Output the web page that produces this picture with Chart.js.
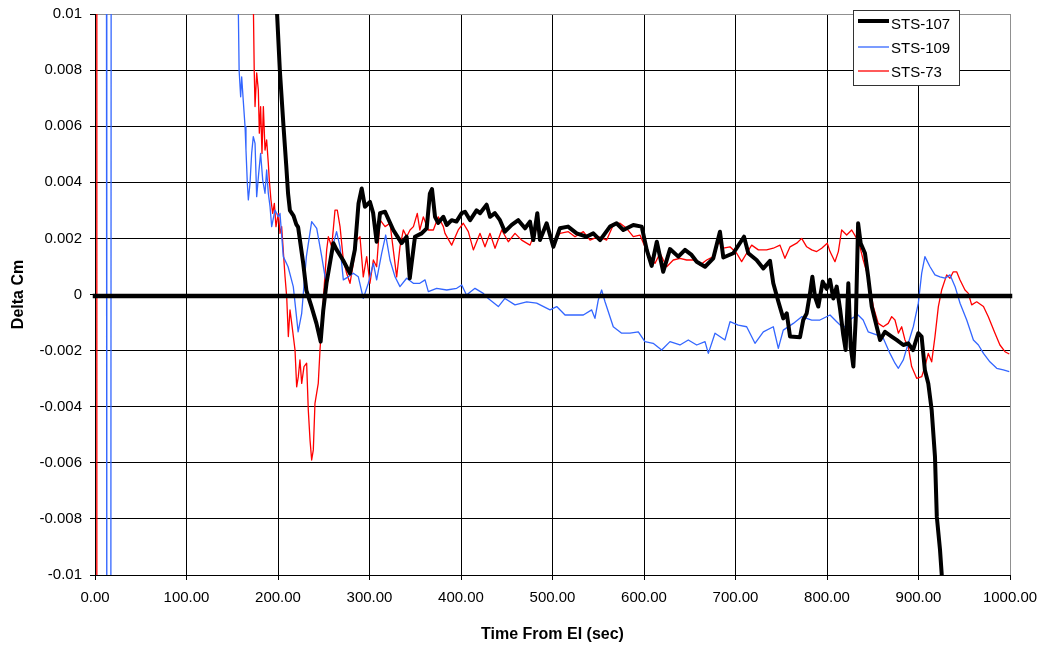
<!DOCTYPE html>
<html>
<head>
<meta charset="utf-8">
<title>Delta Cm vs Time From EI</title>
<script src="https://cdn.jsdelivr.net/npm/chart.js@4.4.1/dist/chart.umd.min.js"></script>
<style>
  html, body { margin: 0; padding: 0; background: #ffffff; }
  canvas { display: block; }
</style>
</head>
<body>
<canvas id="chart" width="1040" height="647"></canvas>
<script>
// Time from entry interface (sec) and Delta Cm, one [t, value] pair per sample.
const seriesNames = ['STS-107', 'STS-109', 'STS-73'];

const sts107 = [
  [198, 10.5e-3], [199, 10e-3], [202, 8.0e-3], [206, 6.0e-3], [209, 4.6e-3], [211, 3.6e-3],
  [213, 3.0e-3], [217, 2.8e-3], [220, 2.5e-3], [222, 2.4e-3], [227.6, 1.1e-3], [231, 0.15e-3],
  [236.6, -0.43e-3], [242, -1.03e-3], [246.6, -1.68e-3], [249.5, -0.55e-3], [253, 0.4e-3],
  [260.5, 1.83e-3], [264, 1.6e-3], [271, 1.23e-3], [278.7, 0.75e-3], [284, 1.6e-3],
  [288, 3.25e-3], [291.5, 3.78e-3], [295, 3.13e-3], [300.5, 3.3e-3], [304, 2.9e-3],
  [307.8, 1.88e-3], [311.5, 2.9e-3], [317, 2.95e-3], [326, 2.3e-3], [335, 1.83e-3],
  [340.6, 2.06e-3], [344, 0.58e-3], [349.7, 2.06e-3], [357, 2.18e-3], [362.5, 2.36e-3],
  [366, 3.6e-3], [368.3, 3.76e-3], [371.6, 2.77e-3], [375, 2.55e-3], [380.7, 2.77e-3],
  [384.4, 2.48e-3], [389.8, 2.65e-3], [395, 2.6e-3], [400.8, 2.9e-3], [404.4, 2.95e-3],
  [410, 2.65e-3], [417, 3.0e-3], [420.8, 2.9e-3], [428, 3.2e-3], [431.7, 2.77e-3],
  [437, 2.9e-3], [442.6, 2.65e-3], [448, 2.24e-3], [455.4, 2.48e-3], [462.6, 2.65e-3],
  [470, 2.36e-3], [475.4, 2.6e-3], [479, 1.94e-3], [483.4, 2.9e-3], [486.3, 1.94e-3],
  [493.6, 2.54e-3], [500.9, 1.7e-3], [508, 2.36e-3], [517, 2.42e-3], [526.4, 2.18e-3],
  [537, 2.06e-3], [544.6, 2.18e-3], [552, 1.94e-3], [562.8, 2.42e-3], [570, 2.54e-3],
  [577.4, 2.3e-3], [588.3, 2.48e-3], [597.5, 2.42e-3], [603, 1.59e-3], [608.4, 1.02e-3],
  [614, 1.88e-3], [621, 0.81e-3], [628.4, 1.62e-3], [637.5, 1.35e-3], [644.8, 1.59e-3],
  [652, 1.41e-3], [657.6, 1.17e-3], [666.7, 0.99e-3], [675.7, 1.29e-3], [683, 2.24e-3],
  [686.7, 1.32e-3], [697.6, 1.47e-3], [709.3, 2.06e-3], [714, 1.47e-3], [723, 1.23e-3],
  [730.4, 0.93e-3], [737.7, 1.2e-3], [741.3, 0.4e-3], [746.8, -0.25e-3], [752.2, -0.85e-3],
  [756, -0.67e-3], [759.6, -1.5e-3], [770.5, -1.52e-3], [774, -0.91e-3], [777.8, -0.67e-3],
  [781.4, 0.04e-3], [784, 0.63e-3], [786.9, -0.08e-3], [790.5, -0.43e-3], [795.3, 0.46e-3],
  [799.6, 0.2e-3], [803.3, 0.52e-3], [806.9, -0.14e-3], [810.6, 0.28e-3], [814.2, -0.5e-3],
  [817.8, -1.45e-3], [820.4, -1.98e-3], [823.3, 0.4e-3], [825.9, -1.86e-3], [828.8, -2.57e-3],
  [831.7, -0.67e-3], [834, 2.54e-3], [836.8, 1.83e-3], [841.5, 1.47e-3], [845, 0.63e-3],
  [848.9, -0.43e-3], [852.5, -0.91e-3], [858, -1.62e-3], [863.4, -1.33e-3], [870.7, -1.5e-3],
  [876, -1.62e-3], [883.4, -1.8e-3], [888.8, -1.74e-3], [894, -1.98e-3], [899.8, -1.38e-3],
  [903.4, -1.5e-3], [907, -2.7e-3], [910.7, -3.17e-3], [914.4, -4.12e-3], [918, -5.78e-3],
  [920, -7.92e-3], [923.5, -9.1e-3], [925.3, -9.94e-3], [926, -10.3e-3]
];

const sts109 = [
  [12.5, 15e-3], [12.9, -15e-3], [17.3, -15e-3], [17.7, 15e-3],
  [156.5, 10.5e-3], [157.5, 8.0e-3], [159.2, 7.05e-3], [160.3, 7.76e-3], [162, 6.93e-3],
  [164, 5.98e-3], [165, 5.15e-3], [166.5, 3.96e-3], [167.6, 3.37e-3], [169.4, 3.96e-3],
  [171.2, 5.03e-3], [173, 5.63e-3], [174.9, 5.39e-3], [176.7, 3.49e-3], [178.9, 4.32e-3],
  [181, 5.03e-3], [183.3, 4.08e-3], [185.8, 3.61e-3], [187.6, 4.44e-3], [189.4, 3.61e-3],
  [191.3, 3.13e-3], [193.1, 2.42e-3], [196.7, 3.01e-3], [200.3, 2.77e-3], [202.2, 2.89e-3],
  [205.8, 1.35e-3], [211, 0.99e-3], [216.7, 0.28e-3], [222, -1.33e-3], [225.9, -0.67e-3],
  [231, 1.35e-3], [236.8, 2.6e-3], [242.3, 2.36e-3], [247.8, 1.35e-3], [253.2, 0.28e-3],
  [258.7, 1.59e-3], [264, 2.24e-3], [267.8, 1.7e-3], [271.4, 0.52e-3], [276.8, 0.63e-3],
  [282.3, 0.76e-3], [287.8, 0.63e-3], [293.2, -0.14e-3], [298.7, 0.4e-3], [304.2, 1.11e-3],
  [307.8, 0.52e-3], [313.3, 1.47e-3], [317.7, 2.12e-3], [322.4, 1.23e-3], [327.9, 0.63e-3],
  [333.3, 0.28e-3], [340.6, 0.58e-3], [347.9, 0.4e-3], [355, 0.4e-3], [360.7, 0.52e-3],
  [364.3, 0.1e-3], [373.4, 0.22e-3], [384.4, 0.16e-3], [395.3, 0.22e-3], [400.8, 0.34e-3],
  [406, -0.02e-3], [415.3, 0.22e-3], [424.4, 0.04e-3], [429.8, -0.14e-3], [440.8, -0.43e-3],
  [448, -0.14e-3], [459, -0.37e-3], [471.8, -0.26e-3], [482.7, -0.31e-3], [497.3, -0.55e-3],
  [504.6, -0.43e-3], [513.7, -0.73e-3], [522.7, -0.73e-3], [533.7, -0.73e-3], [542.8, -0.55e-3],
  [546.4, -0.85e-3], [550, -0.2e-3], [553.7, 0.16e-3], [557.4, -0.26e-3], [566.4, -1.15e-3],
  [575.6, -1.38e-3], [584.7, -1.38e-3], [593.8, -1.33e-3], [601, -1.68e-3], [610, -1.74e-3],
  [619.3, -1.98e-3], [628.4, -1.68e-3], [639.3, -1.8e-3], [648.4, -1.62e-3], [657.6, -1.8e-3],
  [666.7, -1.68e-3], [670.3, -2.1e-3], [677.6, -1.38e-3], [688.5, -1.62e-3], [694, -0.97e-3],
  [703, -1.09e-3], [712.2, -1.15e-3], [721.3, -1.74e-3], [730.4, -1.33e-3], [741.3, -1.15e-3],
  [746.8, -1.92e-3], [752.2, -1.27e-3], [763.2, -1.03e-3], [772.3, -0.79e-3], [783.3, -0.91e-3],
  [792.3, -0.91e-3], [803.3, -0.73e-3], [810.6, -0.97e-3], [817.8, -1.2e-3], [827, -0.85e-3],
  [834, -0.73e-3], [839.5, -0.91e-3], [845, -1.33e-3], [854.3, -1.44e-3], [861.5, -1.56e-3],
  [868.8, -2.1e-3], [874.3, -2.45e-3], [878, -2.63e-3], [883.4, -2.33e-3], [888.8, -1.74e-3],
  [894.3, -1.15e-3], [899.8, -0.31e-3], [903.5, 0.76e-3], [907, 1.35e-3], [912.6, 0.99e-3],
  [918, 0.7e-3], [923.5, 0.63e-3], [929, 0.58e-3], [934.4, 0.7e-3], [940, 0.28e-3],
  [945.4, -0.31e-3], [952.7, -0.91e-3], [960, -1.62e-3], [965.5, -1.8e-3], [971, -2.1e-3],
  [978, -2.4e-3], [985.5, -2.63e-3], [992.7, -2.69e-3], [999.2, -2.75e-3]
];

const sts73 = [
  [1.5, -15e-3], [2.0, 15e-3],
  [173, 10.5e-3], [174, 8.0e-3], [174.9, 6.7e-3], [176.7, 7.9e-3], [178.5, 7.29e-3],
  [179.6, 5.75e-3], [181, 6.7e-3], [182.5, 5.03e-3], [184, 6.7e-3], [185.8, 5.15e-3],
  [187.6, 5.51e-3], [189.4, 4.68e-3], [190.5, 4.08e-3], [192.3, 3.37e-3], [194.2, 2.89e-3],
  [196, 3.25e-3], [197.8, 2.42e-3], [200.4, 2.89e-3], [202.2, 2.18e-3], [204, 2.42e-3],
  [207.7, 0.63e-3], [209.5, -0.08e-3], [211.3, -1.5e-3], [213.1, -0.55e-3], [215, -1.03e-3],
  [218.6, -1.98e-3], [220.4, -3.29e-3], [222.2, -2.93e-3], [224, -2.33e-3], [225.9, -3.17e-3],
  [228.4, -2.57e-3], [231.3, -2.45e-3], [233.1, -4.12e-3], [235, -5.19e-3], [236.8, -5.9e-3],
  [238.6, -5.54e-3], [240.4, -3.88e-3], [244, -3.17e-3], [245.9, -1.98e-3], [249.5, -0.2e-3],
  [253.2, 1.59e-3], [255, 2.06e-3], [258.7, 1.7e-3], [262.3, 3.01e-3], [264.8, 3.01e-3],
  [267.8, 2.42e-3], [271.4, 1.23e-3], [275, 0.76e-3], [278.7, 0.4e-3], [282.3, 1.11e-3],
  [286, 1.94e-3], [289.6, 2.06e-3], [293.2, 0.63e-3], [296.9, 1.35e-3], [300.5, 0.4e-3],
  [304.2, 1.23e-3], [307.8, 0.99e-3], [311.5, 2.66e-3], [317, 2.42e-3], [322.4, 2.54e-3],
  [326, 1.59e-3], [329.7, 0.63e-3], [333.3, 1.7e-3], [337, 2.3e-3], [340.6, 2.06e-3],
  [344.3, 2.3e-3], [348, 2.42e-3], [352.2, 2.89e-3], [355, 2.3e-3], [358.8, 2.77e-3],
  [364.3, 2.3e-3], [369.8, 2.3e-3], [375.2, 2.77e-3], [380.7, 2.42e-3], [382.5, 2.18e-3],
  [389.8, 1.76e-3], [397, 2.3e-3], [402.5, 2.54e-3], [408, 2.24e-3], [413.5, 1.59e-3],
  [420.8, 2.18e-3], [426.2, 1.7e-3], [431.7, 2.18e-3], [437.2, 1.65e-3], [444.5, 2.3e-3],
  [451.7, 1.88e-3], [459, 2.18e-3], [466.3, 1.94e-3], [475.4, 1.76e-3], [482.7, 2.36e-3],
  [488.2, 2.06e-3], [493.6, 2.54e-3], [500.9, 1.83e-3], [508.2, 2.18e-3], [517.3, 2.24e-3],
  [524.6, 2.06e-3], [533.7, 2.24e-3], [541, 1.94e-3], [550, 2.06e-3], [559.2, 1.94e-3],
  [566.4, 2.48e-3], [573.8, 2.54e-3], [581, 2.36e-3], [588.3, 2.06e-3], [595.6, 2.12e-3],
  [601, 1.7e-3], [606.6, 1.35e-3], [612, 1.11e-3], [617.5, 1.47e-3], [624.8, 0.99e-3],
  [632, 1.23e-3], [639.3, 1.29e-3], [646.6, 1.23e-3], [654, 1.23e-3], [661.2, 1.05e-3],
  [668.5, 1.23e-3], [675.7, 1.35e-3], [681.2, 1.88e-3], [686.7, 1.65e-3], [694, 1.7e-3],
  [701.3, 1.47e-3], [706.7, 1.17e-3], [712.2, 1.47e-3], [717.7, 1.76e-3], [725, 1.59e-3],
  [734, 1.59e-3], [741.3, 1.65e-3], [748.6, 1.76e-3], [754, 1.29e-3], [759.6, 1.7e-3],
  [766.9, 1.83e-3], [772.3, 2.0e-3], [777.8, 1.7e-3], [783.3, 1.59e-3], [788.7, 1.53e-3],
  [794.2, 1.65e-3], [800.3, 1.83e-3], [803.3, 1.53e-3], [808.7, 1.17e-3], [812.4, 1.53e-3],
  [816, 2.3e-3], [821.5, 2.12e-3], [827, 2.3e-3], [832.4, 2.0e-3], [836, 1.7e-3],
  [839.6, 1.23e-3], [845, 0.63e-3], [850.6, -0.43e-3], [856, -1.03e-3], [861.5, -1.15e-3],
  [866.9, -1.03e-3], [870.7, -0.79e-3], [874.3, -0.91e-3], [878, -1.38e-3], [881.6, -1.15e-3],
  [885.2, -1.62e-3], [888.8, -1.86e-3], [892.5, -2.57e-3], [898, -2.99e-3], [903.5, -2.93e-3],
  [907, -2.57e-3], [910.7, -2.1e-3], [914.4, -2.4e-3], [918, -1.5e-3], [921.7, -0.43e-3],
  [925.3, 0.16e-3], [930.8, 0.7e-3], [934.4, 0.58e-3], [938, 0.81e-3], [941.7, 0.81e-3],
  [945.4, 0.52e-3], [950.8, 0.16e-3], [954.5, 0.04e-3], [958.1, -0.37e-3], [963.6, -0.26e-3],
  [971, -0.43e-3], [976.3, -0.79e-3], [983.6, -1.38e-3], [989, -1.8e-3], [994.5, -2.04e-3],
  [999.2, -2.12e-3]
];

// Heavy reference line drawn across the full time span.
const referenceLine = [[0, -0.05e-3], [1000, -0.05e-3]];

const xTickValues = [0, 100, 200, 300, 400, 500, 600, 700, 800, 900, 1000];
const yTickValues = [-0.01, -0.008, -0.006, -0.004, -0.002, 0, 0.002, 0.004, 0.006, 0.008, 0.01];

const FONT_FAMILY = '"Liberation Sans", Arial, Helvetica, sans-serif';
const toPoints = pairs => pairs.map(([x, y]) => ({ x, y }));

const seriesStyles = [
  { color: '#000000', width: 4 },
  { color: '#3366ff', width: 1.3 },
  { color: '#ff0000', width: 1.3 }
];

// Boxed legend in the upper-right corner of the plot.
const boxedLegend = {
  id: 'boxedLegend',
  afterDraw(chart) {
    const ctx = chart.ctx;
    const left = 853.5, top = 10.5, w = 106, h = 75;
    ctx.save();
    ctx.fillStyle = '#ffffff';
    ctx.fillRect(left, top, w, h);
    ctx.strokeStyle = '#333333';
    ctx.lineWidth = 1;
    ctx.strokeRect(left, top, w, h);
    const rowsLine = [21, 47, 71];
    const rowsText = [24.5, 48.5, 73];
    const entries = chart.data.datasets.filter(d => d.label);
    entries.forEach((ds, i) => {
      ctx.beginPath();
      ctx.strokeStyle = ds.borderColor;
      ctx.lineWidth = ds.borderWidth;
      ctx.moveTo(858, rowsLine[i]);
      ctx.lineTo(889, rowsLine[i]);
      ctx.stroke();
      ctx.fillStyle = '#000000';
      ctx.font = '15px ' + FONT_FAMILY;
      ctx.textBaseline = 'middle';
      ctx.textAlign = 'left';
      ctx.fillText(ds.label, 891, rowsText[i]);
    });
    ctx.restore();
  }
};

const datasets = [
  {
    label: '',
    data: toPoints(referenceLine),
    borderColor: '#000000',
    borderWidth: 4.5,
    borderCapStyle: 'square',
    clip: false,
    order: 0
  },
  ...[sts107, sts109, sts73].map((series, i) => ({
    label: seriesNames[i],
    data: toPoints(series),
    borderColor: seriesStyles[i].color,
    borderWidth: seriesStyles[i].width,
    borderJoinStyle: 'round',
    order: i + 1
  }))
];

// Let the layout padding alone decide the plot-area edges.
const clearScalePadding = s => {
  s.paddingTop = 0;
  s.paddingBottom = 0;
  s.paddingLeft = 0;
  s.paddingRight = 0;
};

new Chart(document.getElementById('chart'), {
  type: 'line',
  data: { datasets },
  options: {
    responsive: false,
    animation: false,
    devicePixelRatio: 1,
    layout: { padding: { top: 14, right: 30, bottom: 0, left: 0 } },
    elements: { point: { radius: 0 }, line: { tension: 0 } },
    plugins: { legend: { display: false }, tooltip: { enabled: false } },
    scales: {
      x: {
        type: 'linear',
        min: 0,
        max: 1000,
        afterBuildTicks: s => { s.ticks = xTickValues.map(v => ({ value: v })); },
        afterFit: s => { s.height = 72; clearScalePadding(s); },
        ticks: {
          color: '#000000',
          font: { family: FONT_FAMILY, size: 15 },
          padding: 9,
          maxRotation: 0,
          callback: v => Number(v).toFixed(2)
        },
        grid: {
          color: ctx => (ctx.tick && ctx.tick.value === 1000 ? '#909090' : '#000000'),
          lineWidth: 1,
          tickLength: 5,
          tickColor: '#000000'
        },
        border: { color: '#000000', width: 1 },
        title: {
          display: true,
          text: 'Time From EI (sec)',
          color: '#000000',
          font: { family: FONT_FAMILY, size: 16, weight: 'bold' },
          padding: { top: 0, bottom: 3 }
        }
      },
      y: {
        type: 'linear',
        min: -0.01,
        max: 0.01,
        afterBuildTicks: s => { s.ticks = yTickValues.map(v => ({ value: v })); },
        afterFit: s => { s.width = 95; clearScalePadding(s); },
        ticks: {
          color: '#000000',
          font: { family: FONT_FAMILY, size: 15 },
          padding: 8,
          callback: v => {
            const r = Number(Number(v).toFixed(3));
            return r === 0 ? '0' : String(r);
          }
        },
        grid: {
          color: ctx => (ctx.tick && ctx.tick.value === 0.01 ? '#909090' : '#000000'),
          lineWidth: 1,
          tickLength: 5,
          tickColor: '#000000'
        },
        border: { color: '#000000', width: 1 },
        title: {
          display: true,
          text: 'Delta Cm',
          color: '#000000',
          font: { family: FONT_FAMILY, size: 16, weight: 'bold' },
          padding: { top: 9, bottom: 0 }
        }
      }
    }
  },
  plugins: [boxedLegend]
});
</script>
</body>
</html>
